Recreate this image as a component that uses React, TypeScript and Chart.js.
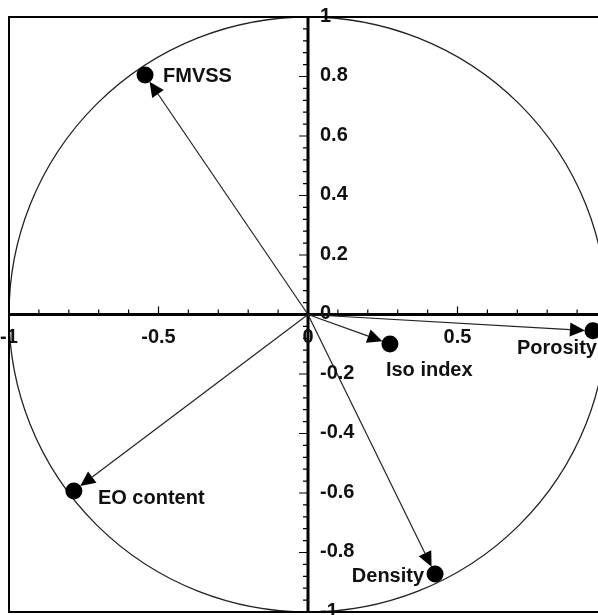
import React, { useEffect, useRef } from "react";
import { Chart, registerables } from "chart.js";

Chart.register(...registerables);

// ---- data ----
const variableNames = ["FMVSS", "Iso index", "Porosity", "EO content", "Density"];
const xValues = [-0.545, 0.274, 0.953, -0.783, 0.425];
const yValues = [0.805, -0.099, -0.055, -0.593, -0.872];

const xTickValues = [-1, -0.5, 0, 0.5, 1];
const xTickLabels = ["-1", "-0.5", "0", "0.5", "1"];
const yTickValues = [1, 0.8, 0.6, 0.4, 0.2, 0, -0.2, -0.4, -0.6, -0.8, -1];
const yTickLabels = ["1", "0.8", "0.6", "0.4", "0.2", "0", "-0.2", "-0.4", "-0.6", "-0.8", "-1"];
const xMinorStep = 0.1;
const yMinorStep = 0.04;
const circleRadius = 1;

// ---- layout / style (not data) ----
const labelPlacement: { dx: number; dy: number; align: CanvasTextAlign }[] = [
  { dx: 18, dy: 1, align: "left" },
  { dx: -4, dy: 27, align: "left" },
  { dx: 4, dy: 18, align: "right" },
  { dx: 24, dy: 8, align: "left" },
  { dx: -11, dy: 3, align: "right" },
];
const FONT = "bold 20px Arial, 'Liberation Sans', sans-serif";
const INK = "#111";

const pcaPlugin = {
  id: "pcaCircle",
  beforeDatasetsDraw(chart: any) {
    const { ctx, chartArea: a } = chart;
    const x = chart.scales.x;
    const y = chart.scales.y;
    const ox = x.getPixelForValue(0);
    const oy = y.getPixelForValue(0);
    ctx.save();
    ctx.beginPath();
    ctx.ellipse(
      ox,
      oy,
      Math.abs(x.getPixelForValue(circleRadius) - ox),
      Math.abs(y.getPixelForValue(circleRadius) - oy),
      0,
      0,
      Math.PI * 2
    );
    ctx.strokeStyle = "#222";
    ctx.lineWidth = 1.3;
    ctx.stroke();

    ctx.strokeStyle = "#000";
    ctx.lineWidth = 3;
    ctx.beginPath();
    ctx.moveTo(a.left, oy);
    ctx.lineTo(a.right, oy);
    ctx.moveTo(ox, a.top);
    ctx.lineTo(ox, a.bottom);
    ctx.stroke();

    ctx.lineWidth = 1.2;
    ctx.beginPath();
    const xi0 = Math.round(x.min / xMinorStep);
    const xi1 = Math.round(x.max / xMinorStep);
    for (let i = xi0; i <= xi1; i++) {
      const v = i * xMinorStep;
      const px = x.getPixelForValue(v);
      const major = xTickValues.some((t) => Math.abs(t - v) < 1e-6);
      ctx.moveTo(px, oy);
      ctx.lineTo(px, oy - (major ? 8 : 5));
    }
    const yi0 = Math.round(y.min / yMinorStep);
    const yi1 = Math.round(y.max / yMinorStep);
    for (let i = yi0; i <= yi1; i++) {
      const v = i * yMinorStep;
      const py = y.getPixelForValue(v);
      const major = yTickValues.some((t) => Math.abs(t - v) < 1e-6);
      ctx.moveTo(ox, py);
      ctx.lineTo(ox - (major ? 9 : 5), py);
    }
    ctx.stroke();

    ctx.strokeStyle = "#222";
    ctx.fillStyle = "#000";
    ctx.lineWidth = 1.2;
    for (let i = 0; i < xValues.length; i++) {
      const px = x.getPixelForValue(xValues[i]);
      const py = y.getPixelForValue(yValues[i]);
      const ang = Math.atan2(py - oy, px - ox);
      const c = Math.cos(ang);
      const s = Math.sin(ang);
      const tipX = px - 8 * c;
      const tipY = py - 8 * s;
      const bx = px - 23 * c;
      const by = py - 23 * s;
      ctx.beginPath();
      ctx.moveTo(ox, oy);
      ctx.lineTo(bx, by);
      ctx.stroke();
      ctx.beginPath();
      ctx.moveTo(tipX, tipY);
      ctx.lineTo(bx - 7 * s, by + 7 * c);
      ctx.lineTo(bx + 7 * s, by - 7 * c);
      ctx.closePath();
      ctx.fill();
    }
    ctx.restore();
  },
  afterDraw(chart: any) {
    const { ctx, chartArea: a } = chart;
    const x = chart.scales.x;
    const y = chart.scales.y;
    const ox = x.getPixelForValue(0);
    const oy = y.getPixelForValue(0);
    ctx.save();
    ctx.font = FONT;
    ctx.fillStyle = INK;
    ctx.textBaseline = "middle";
    ctx.textAlign = "center";
    xTickValues.forEach((v, i) => {
      ctx.fillText(xTickLabels[i], x.getPixelForValue(v), oy + 23);
    });
    ctx.textAlign = "left";
    yTickValues.forEach((v, i) => {
      ctx.fillText(yTickLabels[i], ox + 12, y.getPixelForValue(v) - 1);
    });
    variableNames.forEach((name, i) => {
      const p = labelPlacement[i];
      ctx.textAlign = p.align;
      ctx.fillText(name, x.getPixelForValue(xValues[i]) + p.dx, y.getPixelForValue(yValues[i]) + p.dy);
    });
    ctx.strokeStyle = "#000";
    ctx.lineWidth = 2;
    ctx.strokeRect(a.left, a.top, a.right - a.left, a.bottom - a.top);
    ctx.restore();
  },
};

export default function App() {
  const ref = useRef<HTMLCanvasElement | null>(null);
  useEffect(() => {
    if (!ref.current) return;
    const chart = new Chart(ref.current, {
      type: "scatter",
      data: {
        datasets: [
          {
            label: "variables",
            data: xValues.map((v, i) => ({ x: v, y: yValues[i] })),
            pointRadius: 8.5,
            pointHoverRadius: 8.5,
            backgroundColor: "#000",
            borderColor: "#000",
            borderWidth: 0,
          },
        ],
      },
      options: {
        responsive: false,
        animation: false,
        devicePixelRatio: 1,
        layout: { autoPadding: false, padding: { left: 9, top: 17, right: 13, bottom: 3 } },
        scales: {
          x: { type: "linear", min: -1, max: 1, display: false },
          y: { type: "linear", min: -1, max: 1, display: false },
        },
        plugins: { legend: { display: false }, tooltip: { enabled: false } },
      },
      plugins: [pcaPlugin],
    });
    return () => chart.destroy();
  }, []);
  return (
    <div
      style={{
        position: "absolute",
        left: 0,
        top: 0,
        width: 598,
        height: 615,
        overflow: "hidden",
        background: "#fff",
      }}
    >
      <canvas ref={ref} width={620} height={615} style={{ display: "block" }} />
    </div>
  );
}
